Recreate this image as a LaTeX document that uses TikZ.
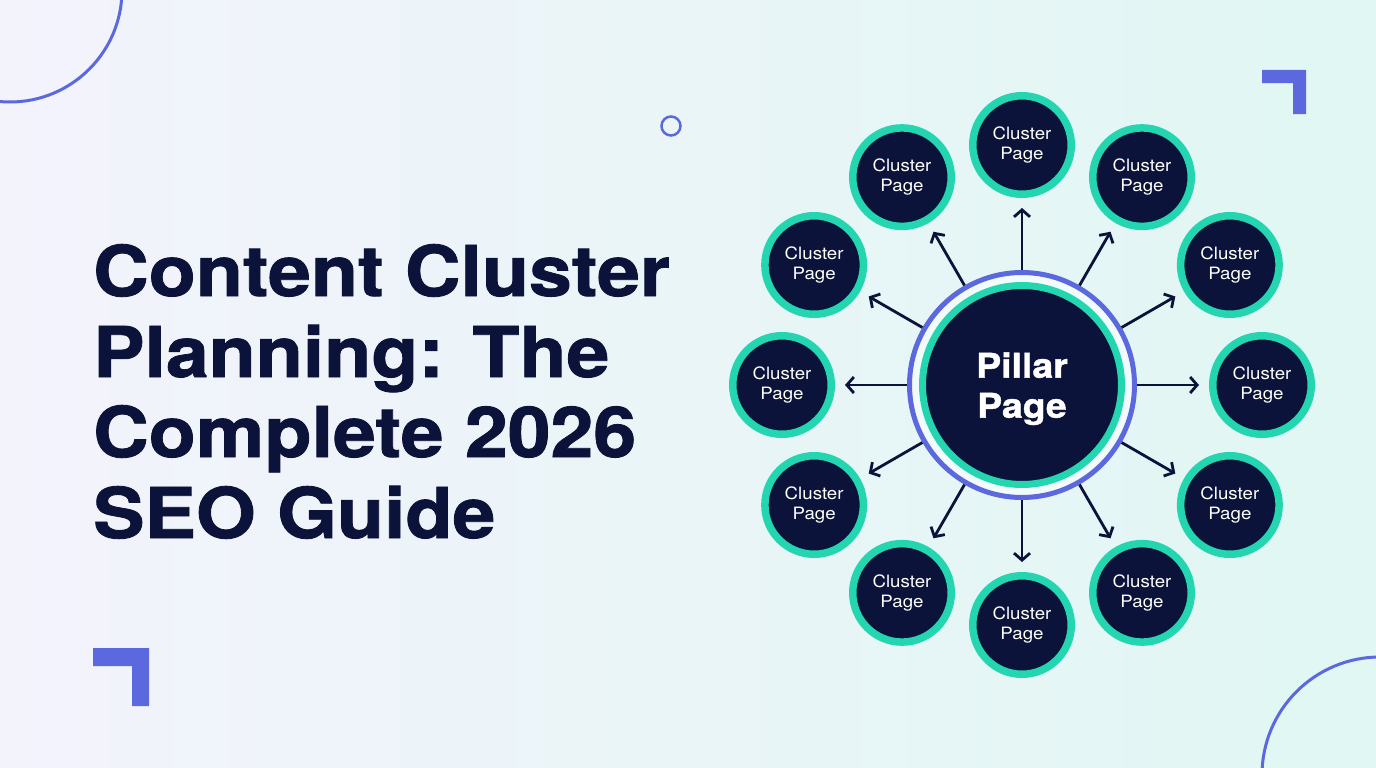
\documentclass[tikz,border=0pt]{standalone}
\usepackage{fontspec}
\setmainfont[FakeStretch=1.1, BoldFeatures={FakeBold=1.2}]{TeX Gyre Heros}
\usepackage{tikz}
\usetikzlibrary{arrows.meta,positioning,calc}

\definecolor{inknavy}{RGB}{12,19,58}
\definecolor{ringteal}{RGB}{36,214,176}
\definecolor{accentblue}{RGB}{91,104,222}
\definecolor{gapwhite}{RGB}{242,251,251}
\definecolor{bgleft}{RGB}{243,243,252}
\definecolor{bgright}{RGB}{224,247,243}

\begin{document}
\begin{tikzpicture}[x=1pt, y=-1pt, >={Straight Barb[length=7pt,width=16pt]},
  cluster/.style={circle, draw=ringteal, line width=7.5pt, fill=inknavy, minimum size=98.5pt, inner sep=0pt,
    align=center, text=white, font=\fontsize{17}{20}\selectfont},
  pillar/.style={circle, draw=ringteal, line width=7pt, fill=inknavy, minimum size=199pt, inner sep=0pt,
    align=center, text=white, text depth=0pt, font=\fontsize{34}{40}\selectfont\bfseries},
  pillarring/.style={circle, draw=accentblue, line width=5pt, fill=gapwhite, minimum size=225pt},
  titleline/.style={anchor=base west, inner sep=0pt, text=inknavy, font=\fontsize{70}{80}\selectfont\bfseries},
  link/.style={->, draw=inknavy, line width=2.8pt, shorten >=10pt},
  deco/.style={draw=accentblue, line width=3pt}]
  \useasboundingbox (0,0) rectangle (1376,768);
  \clip (0,0) rectangle (1376,768);
  \shade[left color=bgleft, right color=bgright] (0,0) rectangle (1376,768);
  % corner ornaments
  \draw[deco] (10,-10) circle[radius=112];
  \draw[deco] (1380,775) circle[radius=118];
  \draw[deco, line width=2.5pt] (671,126) circle[radius=9.5];
  \fill[accentblue] (1262,70) -- (1306,70) -- (1306,114) -- (1293,114) -- (1293,83) -- (1262,83) -- cycle;
  \fill[accentblue] (93,648) -- (149,648) -- (149,706) -- (132,706) -- (132,666) -- (93,666) -- cycle;
  % title
  \node[titleline] (title1) at (93,296) {Content Cluster};
  \node[titleline] (title2) at (93,377) {Planning: The};
  \node[titleline] (title3) at (93,457) {Complete 2026};
  \node[titleline] (title4) at (93,538) {SEO Guide};
  % hub and spokes
  \node[pillarring] (ring) at (1022,385) {};
  \node[pillar] (pillar) at (1022,385) {Pillar\\Page};
  \foreach \i in {0,...,11} {
    \node[cluster] (c\i) at ($(pillar)+({90+30*\i}:240)$) {Cluster\\Page};
    \draw[link] (ring) -- (c\i);
  }
\end{tikzpicture}
\end{document}
